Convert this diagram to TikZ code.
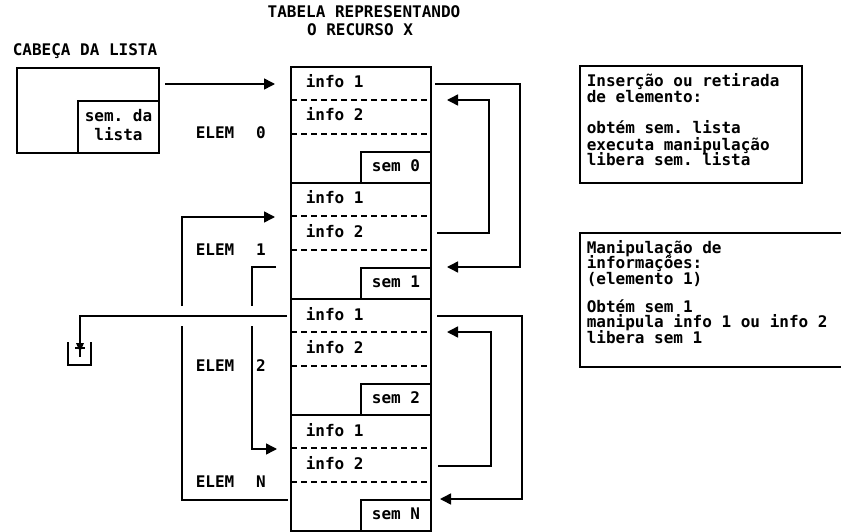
\documentclass[tikz,border=0pt]{standalone}
\usepackage{fontspec}
\setmonofont{DejaVu Sans Mono}
\usetikzlibrary{arrows.meta}
\begin{document}
\begin{tikzpicture}[x=1pt,y=-1pt,
  line width=1.5pt,
  every node/.style={font=\ttfamily\bfseries\fontsize{16}{14.5}\selectfont,
    inner sep=0pt, text height=11pt, text depth=3pt},
  arr/.style={-{Triangle[length=11pt,width=11pt]}},
  dashline/.style={line width=1.3pt, dash pattern=on 6pt off 4pt},
  lt/.style={anchor=west}]
\useasboundingbox (0,0) rectangle (841,532);

% titles
\node (t1) at (364,14) {TABELA REPRESENTANDO};
\node (t2) at (360,32) {O RECURSO X};
\node[lt] (cab) at (12,52) {CABEÇA DA LISTA};

% list head
\draw (17,68) rectangle (159,153);
\draw (78,101) rectangle (159,153);
\node (sl1) at (118.5,118) {sem. da};
\node (sl2) at (118.5,137) {lista};

% table
\foreach \T/\n in {67/0,183/1,299/2,415/N}{
  \draw[dashline] (291,{\T+33}) -- (431,{\T+33});
  \draw[dashline] (291,{\T+67}) -- (431,{\T+67});
  \node[lt] (ia-\n) at (305,{\T+17}) {info 1};
  \node[lt] (ib-\n) at (305,{\T+50}) {info 2};
  \draw (361,{\T+116}) |- (431,{\T+85});
  \node (s-\n) at (396,{\T+100.5}) {sem \n};
  \node[lt] (e-\n) at (195,{\T+68}) {ELEM};
  \node (n-\n) at (261,{\T+68}) {\n};
}
\foreach \T in {183,299,415}{\draw (291,\T) -- (431,\T);}
\draw (291,67) rectangle (431,531);

% head -> table
\coordinate (h0) at (165,84);
\coordinate (h1) at (275,84);
\draw[arr] (h0) -- (h1);

% right loops
\draw[arr] (435,84) -- (520,84) -- (520,267) -- (447,267);
\draw[arr] (437,233) -- (489,233) -- (489,100) -- (447,100);
\draw[arr] (437,316) -- (522,316) -- (522,499) -- (440,499);
\draw[arr] (438,466) -- (491,466) -- (491,332) -- (447,332);

% left connectors (with gaps at crossing)
\draw (288,500) -- (182,500) -- (182,326);
\draw[arr] (182,306) -- (182,217) -- (275,217);
\draw (276,267) -- (252,267) -- (252,306);
\draw[arr] (252,326) -- (252,449) -- (277,449);
\draw (287,316) -- (80,316) -- (80,357);

% semaphore symbol
\draw (68,342) -- (68,365) -- (91,365) -- (91,342);
\draw[line width=2.4pt] (75,348) -- (85,348);
\fill (76,343) -- (84,343) -- (80,352) -- cycle;

% box 1
\draw (580,66) rectangle (802,183);
\node[lt] (b1a) at (586,83) {Inserção ou retirada};
\node[lt] (b1b) at (586,99) {de elemento:};
\node[lt] (b1c) at (586,130) {obtém sem. lista};
\node[lt] (b1d) at (586,146) {executa manipulação};
\node[lt] (b1e) at (586,162) {libera sem. lista};

% box 2 (right side beyond the page)
\draw (841,233) -- (580,233) -- (580,367) -- (841,367);
\node[lt] (b2a) at (586,249) {Manipulação de};
\node[lt] (b2b) at (586,264.5) {informações:};
\node[lt] (b2c) at (586,280) {(elemento 1)};
\node[lt] (b2d) at (586,308) {Obtém sem 1};
\node[lt] (b2e) at (586,323.5) {manipula info 1 ou info 2};
\node[lt] (b2f) at (586,339) {libera sem 1};
\end{tikzpicture}
\end{document}
